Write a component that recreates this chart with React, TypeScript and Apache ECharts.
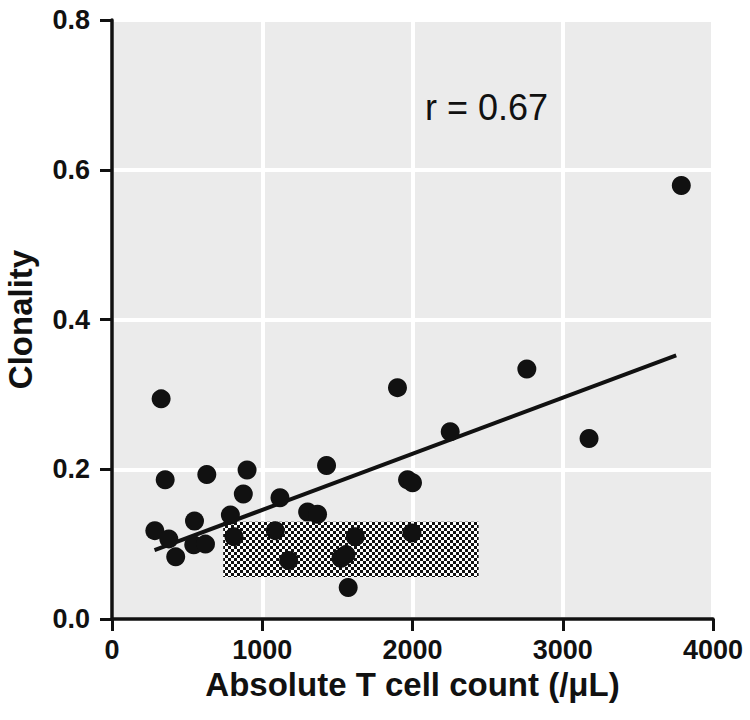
import React, { useEffect, useRef } from "react";
import * as echarts from "echarts";

// Absolute T cell count (/µL) and clonality for each sample
const tCellCount = [
  327, 354, 631, 899, 874, 1118, 285, 378, 549, 788, 544, 622, 424, 812, 1087, 1176,
  2251, 1428, 1967, 2000, 1302, 1368, 1619, 1996, 1524, 1557, 1572, 1900, 2761, 3175, 3789,
];
const clonality = [
  0.294, 0.186, 0.193, 0.199, 0.167, 0.162, 0.118, 0.107, 0.131, 0.139, 0.099, 0.1, 0.083, 0.11, 0.118, 0.078,
  0.25, 0.205, 0.186, 0.182, 0.143, 0.14, 0.11, 0.115, 0.081, 0.086, 0.042, 0.309, 0.334, 0.241, 0.579,
];

// Regression line end points
const fitX = [283, 3755];
const fitY = [0.092, 0.352];

// Shaded (checkered) reference range
const rangeX = [740, 2440];
const rangeY = [0.056, 0.13];

const xTicks = [0, 1000, 2000, 3000, 4000];
const yTicks = [0, 0.2, 0.4, 0.6, 0.8];

const annotation = "r = 0.67";
const xTitle = "Absolute T cell count (/\u03bcL)";
const yTitle = "Clonality";

const FONT = "'Liberation Sans', Arial, Helvetica, sans-serif";

function makeChecker(): HTMLCanvasElement {
  const c = document.createElement("canvas");
  c.width = 6;
  c.height = 6;
  const ctx = c.getContext("2d")!;
  ctx.fillStyle = "#ffffff";
  ctx.fillRect(0, 0, 6, 6);
  ctx.fillStyle = "#111111";
  ctx.fillRect(0, 0, 3, 3);
  ctx.fillRect(3, 3, 3, 3);
  return c;
}

export default function App() {
  const ref = useRef<HTMLDivElement>(null);

  useEffect(() => {
    if (!ref.current) return;
    const chart = echarts.init(ref.current, undefined, { renderer: "svg" });
    const checker = makeChecker();
    const points = tCellCount.map((x, i) => [x, clonality[i]]);
    const fit = fitX.map((x, i) => [x, fitY[i]]);

    chart.setOption({
      animation: false,
      backgroundColor: "#ffffff",
      grid: {
        left: 112,
        right: 37,
        top: 20,
        bottom: 101,
        containLabel: false,
        outerBoundsMode: "none",
        show: true,
        backgroundColor: "#ebebeb",
        borderWidth: 0,
      },
      xAxis: {
        type: "value",
        min: xTicks[0],
        max: xTicks[xTicks.length - 1],
        interval: 1000,
        name: xTitle,
        nameLocation: "middle",
        nameGap: 49,
        nameTextStyle: { fontFamily: FONT, fontWeight: "bold", fontSize: 33, color: "#111" },
        axisLine: { show: true, onZero: false, lineStyle: { color: "#111", width: 3.5 } },
        axisTick: { show: true, length: 12, lineStyle: { color: "#111", width: 3 } },
        axisLabel: {
          margin: 17,
          fontFamily: FONT,
          fontWeight: "bold",
          fontSize: 27,
          color: "#111",
          formatter: (v: number) => String(v),
        },
        splitLine: { show: true, lineStyle: { color: "#ffffff", width: 4 } },
      },
      yAxis: {
        type: "value",
        min: yTicks[0],
        max: yTicks[yTicks.length - 1],
        interval: 0.2,
        name: yTitle,
        nameLocation: "middle",
        nameGap: 75,
        nameRotate: 90,
        nameTextStyle: { fontFamily: FONT, fontWeight: "bold", fontSize: 33, color: "#111" },
        axisLine: { show: true, onZero: false, lineStyle: { color: "#111", width: 3.5 } },
        axisTick: { show: true, length: 12, lineStyle: { color: "#111", width: 3 } },
        axisLabel: {
          margin: 22,
          fontFamily: FONT,
          fontWeight: "bold",
          fontSize: 27,
          color: "#111",
          formatter: (v: number) => v.toFixed(1),
        },
        splitLine: { show: true, lineStyle: { color: "#ffffff", width: 4 } },
      },
      series: [
        {
          type: "line",
          data: fit,
          showSymbol: false,
          symbol: "none",
          lineStyle: { color: "#111", width: 4 },
          z: 3,
          silent: true,
          markArea: {
            silent: true,
            itemStyle: {
              color: { image: checker, repeat: "repeat", imageWidth: 6, imageHeight: 6 },
            },
            data: [[{ coord: [rangeX[0], rangeY[1]] }, { coord: [rangeX[1], rangeY[0]] }]],
          },
        },
        {
          type: "scatter",
          data: points,
          symbol: "circle",
          symbolSize: 19,
          itemStyle: { color: "#111111", opacity: 1 },
          z: 4,
        },
      ],
      graphic: [
        {
          type: "text",
          left: 425,
          top: 89,
          style: {
            text: annotation,
            fontFamily: FONT,
            fontSize: 36,
            fill: "#111",
          },
        },
      ],
    });

    return () => chart.dispose();
  }, []);

  return (
    <div
      ref={ref}
      style={{ position: "fixed", left: 0, top: 0, width: 750, height: 720 }}
    />
  );
}
